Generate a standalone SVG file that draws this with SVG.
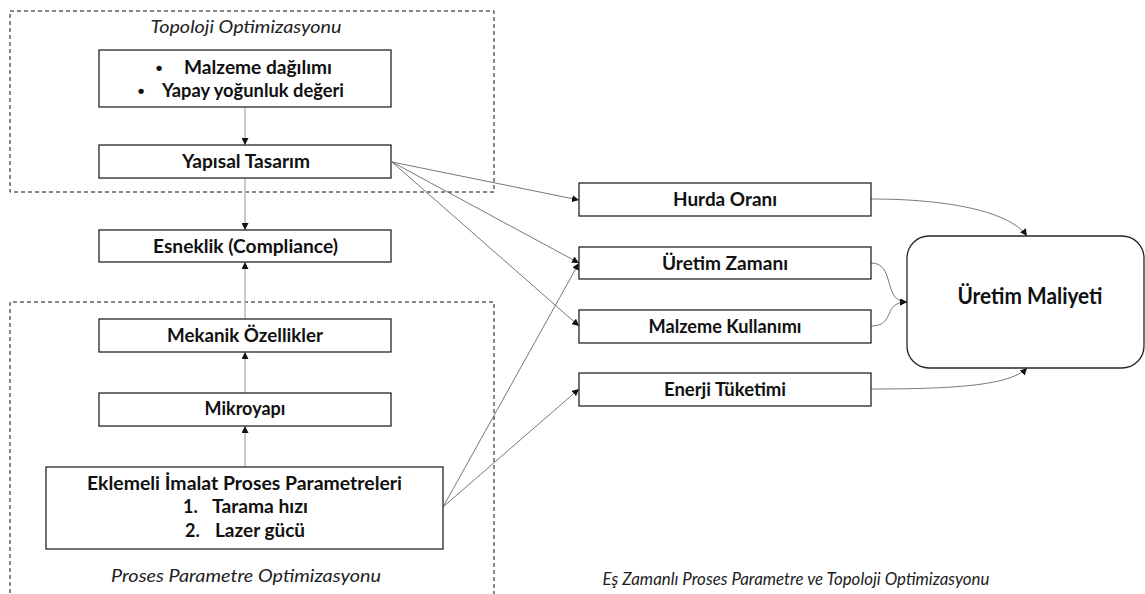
<svg xmlns="http://www.w3.org/2000/svg" width="1145" height="594" viewBox="0 0 1145 594">
  <style>
    .box { fill: #fff; stroke: #262626; stroke-width: 1.3; }
    .zone { fill: none; stroke: #111; stroke-width: 1; stroke-dasharray: 4 3; }
    .lbl { font-family: Lato, "Liberation Sans", sans-serif; font-weight: bold; font-size: 18px; fill: #111; }
    .dot { font-family: "Liberation Sans", sans-serif; font-weight: bold; font-size: 19px; fill: #111; }
    .big { font-family: Lato, "Liberation Sans", sans-serif; font-weight: bold; font-size: 22px; fill: #111; }
    .cap { font-family: Lato, "Liberation Sans", sans-serif; font-style: italic; font-size: 17.5px; fill: #222; }
    .vert { fill: none; stroke: #bdbdbd; stroke-width: 1.6; }
    .diag { fill: none; stroke: #555; stroke-width: 0.8; }
  </style>
  <defs>
    <marker id="ah" viewBox="0 0 10 10" refX="10" refY="5" markerWidth="7" markerHeight="7" markerUnits="userSpaceOnUse" orient="auto">
      <path d="M0,0 L10,5 L0,10 z" fill="#111"/>
    </marker>
  </defs>

  <rect width="1145" height="594" fill="#fff"/>

  <!-- optimisation zones -->
  <g id="zone-topology">
    <rect class="zone" x="10" y="11" width="484" height="181"/>
    <text class="cap" x="246" y="33" text-anchor="middle" textLength="191" lengthAdjust="spacingAndGlyphs">Topoloji Optimizasyonu</text>
  </g>
  <g id="zone-process">
    <path class="zone" d="M10,600 V302 H494 V600"/>
    <text class="cap" x="246" y="582" text-anchor="middle" textLength="270" lengthAdjust="spacingAndGlyphs">Proses Parametre Optimizasyonu</text>
  </g>
  <g id="zone-concurrent">
    <text class="cap" x="796" y="585" text-anchor="middle" textLength="387" lengthAdjust="spacingAndGlyphs">Eş Zamanlı Proses Parametre ve Topoloji Optimizasyonu</text>
  </g>

  <!-- connectors -->
  <g id="connectors">
    <line class="vert" x1="245" y1="107" x2="245" y2="145" marker-end="url(#ah)"/>
    <line class="vert" x1="245" y1="178" x2="245" y2="230" marker-end="url(#ah)"/>
    <line class="vert" x1="245" y1="319" x2="245" y2="262" marker-end="url(#ah)"/>
    <line class="vert" x1="245" y1="393" x2="245" y2="352" marker-end="url(#ah)"/>
    <line class="vert" x1="245" y1="467" x2="245" y2="426" marker-end="url(#ah)"/>

    <line class="diag" x1="392" y1="162" x2="579" y2="200" marker-end="url(#ah)"/>
    <line class="diag" x1="392" y1="162" x2="579" y2="263" marker-end="url(#ah)"/>
    <line class="diag" x1="392" y1="162" x2="579" y2="326" marker-end="url(#ah)"/>
    <line class="diag" x1="443" y1="507" x2="579" y2="263" marker-end="url(#ah)"/>
    <line class="diag" x1="443" y1="507" x2="579" y2="389" marker-end="url(#ah)"/>

    <path class="diag" d="M871,199 C950,199 1010,212 1027,236" marker-end="url(#ah)"/>
    <path class="diag" d="M871,263 C896,263 882,302 907,302" marker-end="url(#ah)"/>
    <path class="diag" d="M871,326 C896,326 882,302 907,302" marker-end="url(#ah)"/>
    <path class="diag" d="M871,389 C950,389 1010,386 1027,368" marker-end="url(#ah)"/>
  </g>

  <!-- nodes -->
  <g id="node-material">
    <rect class="box" x="99" y="50" width="292" height="57"/>
    <text class="dot" x="159" y="74" text-anchor="middle">•</text>
    <text class="lbl" x="184" y="74" textLength="148" lengthAdjust="spacingAndGlyphs">Malzeme dağılımı</text>
    <text class="dot" x="141" y="97" text-anchor="middle">•</text>
    <text class="lbl" x="162" y="97" textLength="182" lengthAdjust="spacingAndGlyphs">Yapay yoğunluk değeri</text>
  </g>
  <g id="node-structural">
    <rect class="box" x="99" y="145" width="292" height="33"/>
    <text class="lbl" x="246" y="168" text-anchor="middle" textLength="128" lengthAdjust="spacingAndGlyphs">Yapısal Tasarım</text>
  </g>
  <g id="node-compliance">
    <rect class="box" x="99" y="230" width="292" height="32"/>
    <text class="lbl" x="245.5" y="253" text-anchor="middle" textLength="185" lengthAdjust="spacingAndGlyphs">Esneklik (Compliance)</text>
  </g>
  <g id="node-mechanical">
    <rect class="box" x="99" y="319" width="292" height="33"/>
    <text class="lbl" x="245" y="342" text-anchor="middle" textLength="156" lengthAdjust="spacingAndGlyphs">Mekanik Özellikler</text>
  </g>
  <g id="node-microstructure">
    <rect class="box" x="99" y="393" width="292" height="33"/>
    <text class="lbl" x="245" y="415" text-anchor="middle">Mikroyapı</text>
  </g>
  <g id="node-am-params">
    <rect class="box" x="46" y="467" width="397" height="82"/>
    <text class="lbl" x="244.5" y="490" text-anchor="middle" textLength="315" lengthAdjust="spacingAndGlyphs">Eklemeli İmalat Proses Parametreleri</text>
    <text class="lbl" x="183" y="513">1.</text>
    <text class="lbl" x="212" y="513" textLength="96" lengthAdjust="spacingAndGlyphs">Tarama hızı</text>
    <text class="lbl" x="185" y="537">2.</text>
    <text class="lbl" x="215" y="537" textLength="90" lengthAdjust="spacingAndGlyphs">Lazer gücü</text>
  </g>

  <g id="node-scrap">
    <rect class="box" x="579" y="183" width="292" height="33"/>
    <text class="lbl" x="725" y="206" text-anchor="middle" textLength="104" lengthAdjust="spacingAndGlyphs">Hurda Oranı</text>
  </g>
  <g id="node-time">
    <rect class="box" x="579" y="247" width="292" height="32"/>
    <text class="lbl" x="725" y="270" text-anchor="middle" textLength="126" lengthAdjust="spacingAndGlyphs">Üretim Zamanı</text>
  </g>
  <g id="node-usage">
    <rect class="box" x="579" y="310" width="292" height="33"/>
    <text class="lbl" x="725" y="333" text-anchor="middle" textLength="153" lengthAdjust="spacingAndGlyphs">Malzeme Kullanımı</text>
  </g>
  <g id="node-energy">
    <rect class="box" x="579" y="373" width="292" height="33"/>
    <text class="lbl" x="725" y="396" text-anchor="middle" textLength="122" lengthAdjust="spacingAndGlyphs">Enerji Tüketimi</text>
  </g>
  <g id="node-cost">
    <rect class="box" x="907" y="236" width="237" height="132" rx="22" ry="22"/>
    <text class="big" x="1030" y="304" text-anchor="middle" textLength="145" lengthAdjust="spacingAndGlyphs">Üretim Maliyeti</text>
  </g>
</svg>
